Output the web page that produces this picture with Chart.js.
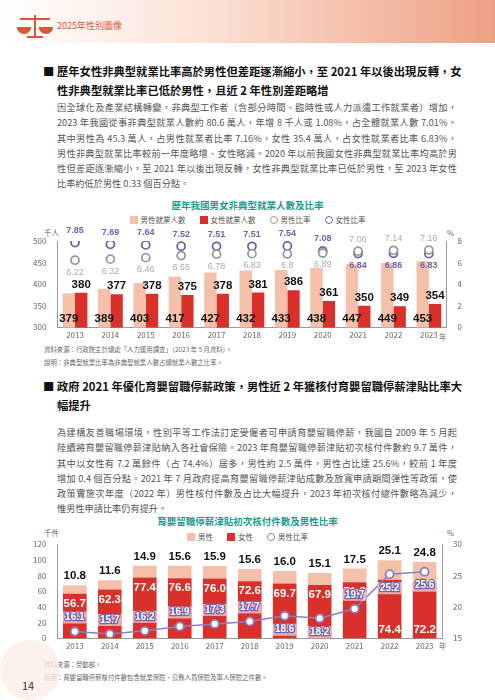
<!DOCTYPE html>
<html><head><meta charset="utf-8">
<script src="https://cdn.jsdelivr.net/npm/chart.js@4.4.0/dist/chart.umd.min.js"></script>
<style>
body{margin:0;width:495px;height:700px;position:relative;background:#fff;font-family:"Noto Sans CJK TC",sans-serif;overflow:hidden}
.hdr{position:absolute;left:0;top:0;width:495px;height:43px;background:linear-gradient(90deg,#fff 0%,#fbe3d8 40%,#eea084 100%)}
.hdr span{position:absolute;left:57px;top:19px;font-size:9px;color:#d9573a}
.h{position:absolute;font-size:11.3px;font-weight:bold;line-height:19px;color:#111;white-space:nowrap}
.h b{position:absolute;left:-14px}
.h div,.p div{text-align:justify;text-align-last:justify}
.h div.l,.p div.l{text-align-last:left}
.p{position:absolute;left:57px;width:400px;font-size:9.2px;line-height:15.3px;color:#555;white-space:nowrap}
.ct{position:absolute;left:0;width:495px;text-align:center;font-size:9.5px;font-weight:bold;color:#1d9b8e}
.n{position:absolute;left:44px;font-size:6.4px;color:#666}
.u{position:absolute;font-size:7.5px;color:#666}
.box{position:absolute;left:30px;width:445px}
.lg{position:absolute;left:0;width:495px;text-align:center;font-size:7.5px;color:#555;line-height:10px}
.lg span{display:inline-block;margin:0 7px}
.lg i{display:inline-block;width:8px;height:8px;vertical-align:-1px;margin-right:3px;box-sizing:border-box}
</style></head><body>
<div class="hdr"><svg style="position:absolute;left:15px;top:13px" width="40" height="26" viewBox="0 0 40 26"><g stroke="#d9573a" stroke-width="2" fill="none"><line x1="20" y1="2" x2="20" y2="23"/><line x1="5" y1="6" x2="35" y2="6"/><line x1="12" y1="24" x2="28" y2="24"/><path d="M3 15 h12 a6 5 0 0 1 -12 0z" fill="#d9573a"/><path d="M25 15 h12 a6 5 0 0 1 -12 0z" fill="#d9573a"/></g></svg><span>2025年性別圖像</span></div>
<div class="h" style="top:62px;left:57px;width:400px"><b>■</b><div>歷年女性非典型就業比率高於男性但差距逐漸縮小，至 2021 年以後出現反轉，女</div><div class="l">性非典型就業比率已低於男性，且近 2 年性別差距略增</div></div>
<div class="p" style="top:100px"><div>因全球化及產業結構轉變，非典型工作者（含部分時間、臨時性或人力派遣工作就業者）增加，</div><div>2023 年我國從事非典型就業人數約 80.6 萬人，年增 8 千人或 1.08%，占全體就業人數 7.01%。</div><div>其中男性為 45.3 萬人，占男性就業者比率 7.16%，女性 35.4 萬人，占女性就業者比率 6.83%，</div><div>男性非典型就業比率較前一年度略增、女性略減。2020 年以前我國女性非典型就業比率均高於男</div><div>性但差距逐漸縮小，至 2021 年以後出現反轉，女性非典型就業比率已低於男性，至 2023 年女性</div><div class="l">比率約低於男性 0.33 個百分點。</div></div>
<div class="ct" style="top:198px">歷年我國男女非典型就業人數及比率</div>
<div class="lg" style="top:215px"><span><i style="background:#f5c0aa"></i>男性就業人數</span><span><i style="background:#d9302b"></i>女性就業人數</span><span><i style="border:1.8px solid #999;border-radius:50%"></i>男性比率</span><span><i style="border:1.8px solid #6e62b0;border-radius:50%"></i>女性比率</span></div>
<div class="u" style="left:44px;top:227px">千人</div><div class="u" style="left:447px;top:227px">%</div>
<div class="box" style="top:208px;height:135px"><canvas id="c1"></canvas></div>
<div class="n" style="top:345px">資料來源：行政院主計總處「人力運用調查」（2023 年 5 月資料）。</div>
<div class="n" style="top:358px">說明：非典型就業比率為非典型就業人數占總就業人數之比率。</div>
<div class="h" style="top:377px;left:57px;width:400px"><b>■</b><div>政府 2021 年優化育嬰留職停薪政策，男性近 2 年獲核付育嬰留職停薪津貼比率大</div><div class="l">幅提升</div></div>
<div class="p" style="top:425px"><div>為建構友善職場環境，性別平等工作法訂定受僱者可申請育嬰留職停薪，我國自 2009 年 5 月起</div><div>陸續將育嬰留職停薪津貼納入各社會保險。2023 年育嬰留職停薪津貼初次核付件數約 9.7 萬件，</div><div>其中以女性有 7.2 萬餘件（占 74.4%）居多，男性約 2.5 萬件，男性占比達 25.6%，較前 1 年度</div><div>增加 0.4 個百分點。2021 年 7 月政府提高育嬰留職停薪津貼成數及放寬申請期間彈性等政策，使</div><div>政策實施次年度（2022 年）男性核付件數及占比大幅提升，2023 年初次核付總件數略為減少，</div><div class="l">惟男性申請比率仍有提升。</div></div>
<div class="ct" style="top:514px">育嬰留職停薪津貼初次核付件數及男性比率</div>
<div class="lg" style="top:532px"><span><i style="background:#f5c0aa"></i>男性</span><span><i style="background:#d9302b"></i>女性</span><span><i style="border:1.8px solid #8a80c0;border-radius:50%"></i>男性比率</span></div>
<div class="u" style="left:44px;top:527px">千件</div><div class="u" style="left:447px;top:527px">%</div>
<div class="box" style="top:526px;height:128px"><canvas id="c2"></canvas></div>
<div class="n" style="top:660px">資料來源：勞動部。</div>
<div class="n" style="top:673px">說明：育嬰留職停薪核付件數包含就業保險、公教人員保險及軍人保險之件數。</div>
<div style="position:absolute;left:0;top:640px;width:60px;height:60px;border-radius:30px;background:#fdeee6;opacity:.8"></div>
<div style="position:absolute;left:22px;top:677px;font-size:11px;color:#333">14</div>
<script>
const years=['2013','2014','2015','2016','2017','2018','2019','2020','2021','2022','2023'];
const menEmp=[379,389,403,417,427,432,433,438,447,449,453];
const womenEmp=[380,377,378,375,378,381,386,361,350,349,354];
const menRate=[6.22,6.32,6.46,6.65,6.78,6.83,6.80,6.89,7.06,7.14,7.16];
const womenRate=[7.85,7.69,7.64,7.52,7.51,7.51,7.54,7.08,6.84,6.86,6.83];
const leaveMale=[10.8,11.6,14.9,15.6,15.9,15.6,16.0,15.1,17.5,25.1,24.8];
const leaveFemale=[56.7,62.3,77.4,76.6,76.0,72.6,69.7,67.9,71.3,74.4,72.2];
const leaveMaleRate=[16.1,15.7,16.2,16.9,17.3,17.7,18.6,18.2,19.7,25.2,25.6];

const NF='"Liberation Sans Narrow","Liberation Sans",sans-serif';
const lbl={id:'lbl',afterDatasetsDraw(ch){
 const c=ch.ctx;const bot=ch.chartArea.bottom;
 ch.data.datasets.forEach((ds,di)=>{
  const L=ds.lbl;if(!L)return;
  const meta=ch.getDatasetMeta(di);
  meta.data.forEach((el,i)=>{
   const v=ds.data[i];const txt=L.dec!=null?v.toFixed(L.dec):String(v);
   const pos=Array.isArray(L.pos)?L.pos[i]:L.pos;
   const base=Math.min(el.base,bot);
   let x=el.x,y;
   if(pos==='above')y=el.y-(L.off||9);
   else if(pos==='below')y=el.y+(L.off||9);
   else if(pos==='base')y=base-9;
   else if(pos==='inTop')y=el.y+10;
   else if(pos==='baseIn')y=base-9;
   c.save();c.font=L.font;c.textAlign='center';c.textBaseline='middle';
   if(L.box){const w=c.measureText(txt).width+4;c.fillStyle='rgba(255,255,255,0.6)';c.fillRect(x-w/2,y-6,w,12);
     c.lineWidth=2.5;c.strokeStyle=L.box;c.lineJoin='round';c.strokeText(txt,x,y);}
   c.fillStyle=L.color;c.fillText(txt,x,y);c.restore();
  });
 });
}};
Chart.defaults.animation=false;
Chart.defaults.font.family='"Noto Sans CJK TC",sans-serif';
const tk={color:'#666',font:{size:8}};
const xtk={color:'#666',font:{size:8},padding:1};
new Chart(document.getElementById('c1'),{
 data:{labels:years,datasets:[
  {type:'bar',label:'男性就業人數',data:menEmp,backgroundColor:'#f5c0aa',yAxisID:'y',order:2,barPercentage:1,categoryPercentage:0.7,
   lbl:{pos:'base',font:'bold 11.5px '+NF,color:'#111'}},
  {type:'bar',label:'女性就業人數',data:womenEmp,backgroundColor:'#d9302b',yAxisID:'y',order:2,barPercentage:1,categoryPercentage:0.7,
   lbl:{pos:'above',off:8,font:'bold 11.5px '+NF,color:'#111'}},
  {type:'line',label:'男性比率',data:menRate,yAxisID:'y1',showLine:false,pointRadius:4,pointBorderWidth:1.8,pointBackgroundColor:'#fff',pointBorderColor:'#999',borderColor:'#999',order:1,
   lbl:{pos:['below','below','below','below','below','below','below','below','above','above','above'],off:12,font:'9px "Liberation Sans",sans-serif',color:'#aaa'}},
  {type:'line',label:'女性比率',data:womenRate,yAxisID:'y1',showLine:false,pointRadius:4,pointBorderWidth:1.8,pointBackgroundColor:'#fff',pointBorderColor:'#6e62b0',borderColor:'#6e62b0',order:1,
   lbl:{pos:['above','above','above','above','above','above','above','above','below','below','below'],off:12,font:'bold 9px "Liberation Sans",sans-serif',color:'#6e62b0'}}
 ]},
 options:{responsive:true,maintainAspectRatio:false,layout:{padding:{left:0,right:10,top:33}},
  plugins:{legend:{display:false},tooltip:{enabled:false}},
  scales:{x:{grid:{display:false,drawTicks:false},border:{color:'#999'},ticks:{...xtk,padding:3}},
   y:{min:300,max:500,ticks:{...tk,stepSize:50},grid:{display:false},border:{color:'#999'}},
   y1:{position:'right',min:0,max:8,ticks:{...tk,stepSize:2},grid:{display:false},border:{color:'#999'}}}},
 plugins:[lbl]
});
new Chart(document.getElementById('c2'),{
 data:{labels:years,datasets:[
  {type:'bar',label:'男性',data:leaveMale,backgroundColor:'#f5c0aa',yAxisID:'y',stack:'s',order:3,barPercentage:0.75,categoryPercentage:0.9,
   lbl:{pos:'above',off:9,dec:1,font:'bold 11.5px '+NF,color:'#111'}},
  {type:'bar',label:'女性',data:leaveFemale,backgroundColor:'#d9302b',yAxisID:'y',stack:'s',order:2,barPercentage:0.75,categoryPercentage:0.9,
   lbl:{pos:['inTop','inTop','inTop','inTop','inTop','inTop','inTop','inTop','inTop','baseIn','baseIn'],dec:1,font:'bold 11.5px '+NF,color:'#fff'}},
  {type:'line',label:'男性比率',data:leaveMaleRate,yAxisID:'y1',borderColor:'#8a80c0',borderWidth:1.5,pointRadius:4,pointBorderWidth:1.8,pointBackgroundColor:'#fff',pointBorderColor:'#8a80c0',order:1,
   lbl:{pos:['above','above','above','above','above','above','below','below','above','below','below'],off:14,dec:1,font:'bold 10px '+NF,color:'#fff',box:'#6e62b0'}}
 ]},
 options:{responsive:true,maintainAspectRatio:false,layout:{padding:{left:0,right:10,top:18}},
  plugins:{legend:{display:false},tooltip:{enabled:false}},
  scales:{x:{stacked:true,grid:{display:false,drawTicks:false},border:{color:'#999'},ticks:{...xtk,padding:3}},
   y:{stacked:true,min:0,max:120,ticks:{...tk,stepSize:20},grid:{display:false},border:{color:'#999'}},
   y1:{position:'right',min:15,max:30,ticks:{...tk,stepSize:5},grid:{display:false},border:{color:'#999'}}}},
 plugins:[lbl]
});
</script>
<div class="u" style="left:439px;top:331px">年</div>
<div class="u" style="left:439px;top:640px">年</div>
</body></html>
